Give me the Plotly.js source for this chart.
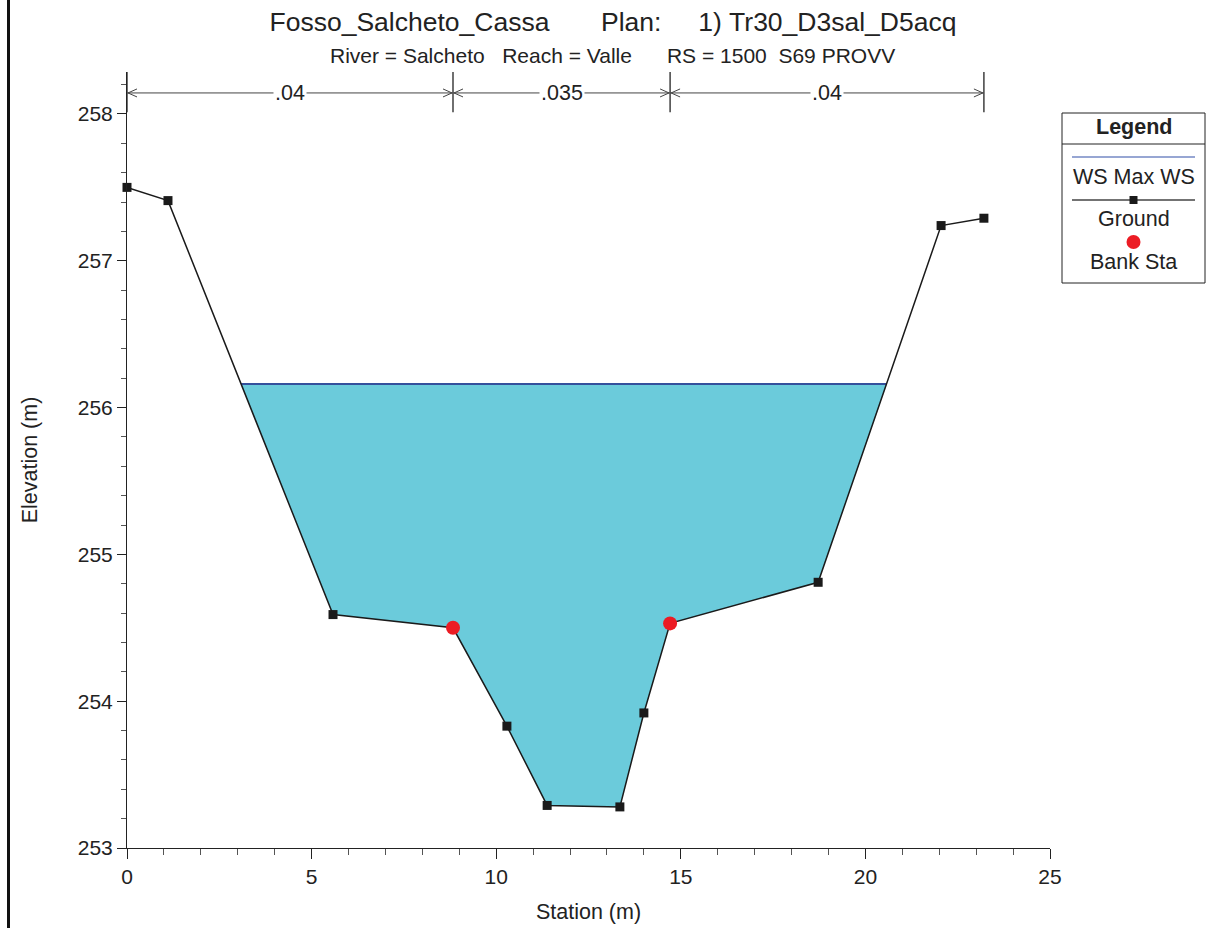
<!DOCTYPE html>
<html>
<head>
<meta charset="utf-8">
<script src="https://cdn.plot.ly/plotly-3.0.1.min.js"></script>
<style>html,body{margin:0;padding:0;background:#fff;}#chart{width:1214px;height:928px;}</style>
</head>
<body>
<div id="chart"></div>
<script>
// Ground profile (station m, elevation m)
const groundStation = [0, 1.11, 5.58, 8.83, 10.29, 11.38, 13.35, 14.00, 14.71, 18.72, 22.05, 23.21];
const groundElev    = [257.50, 257.41, 254.59, 254.50, 253.83, 253.29, 253.28, 253.92, 254.53, 254.81, 257.24, 257.29];
// Bank stations
const bankStation = [8.83, 14.71];
const bankElev    = [254.50, 254.53];
// Max water surface
const wsElev = 256.16;
const wsStations = [3.09, 20.58];
// Manning's n regions
const nBreaks = [0, 8.83, 14.71, 23.21];
const nValues = [".04", ".035", ".04"];
// Axis ticks
const xTicks = [0, 5, 10, 15, 20, 25];
const yTicks = [253, 254, 255, 256, 257, 258];

const FONT = "Liberation Sans, Arial, Helvetica, sans-serif";
const FS = 21.5;
const nbsp = s => s.replace(/ /g, "\u00a0");

// water polygon: WS line endpoints plus ground points below WS
const polyX = [wsStations[0]], polyY = [wsElev];
for (let i = 0; i < groundStation.length; i++) {
  if (groundStation[i] > wsStations[0] && groundStation[i] < wsStations[1]) {
    polyX.push(groundStation[i]); polyY.push(groundElev[i]);
  }
}
polyX.push(wsStations[1]); polyY.push(wsElev);
polyX.push(wsStations[0]); polyY.push(wsElev);

const traces = [
  {x: polyX, y: polyY, type: 'scatter', mode: 'lines', fill: 'toself',
   fillcolor: '#6bcbdb', line: {width: 0}, hoverinfo: 'skip', showlegend: false},
  {x: wsStations, y: [wsElev, wsElev], type: 'scatter', mode: 'lines',
   line: {color: '#34509c', width: 2}, name: 'WS Max WS', showlegend: false},
  {x: groundStation, y: groundElev, type: 'scatter', mode: 'lines+markers',
   line: {color: '#1a1a1a', width: 1.5},
   marker: {symbol: 'square', size: 9, color: '#1a1a1a'}, name: 'Ground', showlegend: false, cliponaxis: false},
  {x: bankStation, y: bankElev, type: 'scatter', mode: 'markers',
   marker: {symbol: 'circle', size: 14, color: '#ec1c24'}, name: 'Bank Sta', showlegend: false, cliponaxis: false}
];

const shapes = [];
const annotations = [];
const yArrow = 0.973, yDivTop = 1.0, yDivBot = 0.948;
const grey = '#444';
nBreaks.forEach(b => {
  shapes.push({type: 'line', xref: 'x', yref: 'paper', x0: b, x1: b, y0: yDivBot, y1: yDivTop,
    line: {color: '#222', width: 1.3}});
});
for (let i = 0; i < nValues.length; i++) {
  const a = nBreaks[i], b = nBreaks[i + 1];
  shapes.push({type: 'line', xref: 'x', yref: 'paper', x0: a, x1: b, y0: yArrow, y1: yArrow,
    line: {color: grey, width: 1}});
  shapes.push({type: 'path', xref: 'x', yref: 'paper', xsizemode: 'pixel', ysizemode: 'pixel',
    xanchor: a, yanchor: yArrow, path: 'M 10 4 L 1 0 L 10 -4', line: {color: grey, width: 1}});
  shapes.push({type: 'path', xref: 'x', yref: 'paper', xsizemode: 'pixel', ysizemode: 'pixel',
    xanchor: b, yanchor: yArrow, path: 'M -10 4 L -1 0 L -10 -4', line: {color: grey, width: 1}});
  annotations.push({xref: 'x', yref: 'paper', x: (a + b) / 2, y: yArrow, text: nValues[i],
    showarrow: false, bgcolor: '#fff', font: {family: FONT, size: FS, color: '#222'},
    xanchor: 'center', yanchor: 'middle', borderpad: 1});
}

// subtitle
annotations.push({xref: 'paper', yref: 'paper', x: (612.5 - 127) / 923, y: (848 - 55) / 776, xanchor: 'center', yanchor: 'middle',
  showarrow: false, text: nbsp("River = Salcheto   Reach = Valle      RS = 1500  S69 PROVV"),
  font: {family: FONT, size: 21, color: '#222'}});

// custom legend box
const px2x = px => (px - 127) / 923;
const py2y = py => (848 - py) / 776;
shapes.push({type: 'rect', xref: 'paper', yref: 'paper', x0: px2x(1062), x1: px2x(1205), y0: py2y(283), y1: py2y(113),
  line: {color: '#222', width: 1}, fillcolor: 'rgba(0,0,0,0)'});
shapes.push({type: 'line', xref: 'paper', yref: 'paper', x0: px2x(1062), x1: px2x(1205), y0: py2y(144), y1: py2y(144),
  line: {color: '#222', width: 1}});
annotations.push({xref: 'paper', yref: 'paper', x: px2x(1133.5), y: py2y(127), text: '<b>Legend</b>', showarrow: false,
  font: {family: FONT, size: FS, color: '#222'}, xanchor: 'center', yanchor: 'middle'});
shapes.push({type: 'line', xref: 'paper', yref: 'paper', x0: px2x(1072), x1: px2x(1195), y0: py2y(157), y1: py2y(157),
  line: {color: '#7489c4', width: 1.5}});
annotations.push({xref: 'paper', yref: 'paper', x: px2x(1133.5), y: py2y(177), text: 'WS Max WS', showarrow: false,
  font: {family: FONT, size: FS, color: '#222'}, xanchor: 'center', yanchor: 'middle'});
shapes.push({type: 'line', xref: 'paper', yref: 'paper', x0: px2x(1072), x1: px2x(1195), y0: py2y(200), y1: py2y(200),
  line: {color: '#444', width: 1.5}});
shapes.push({type: 'rect', xref: 'paper', yref: 'paper', xsizemode: 'pixel', ysizemode: 'pixel',
  xanchor: px2x(1133.5), yanchor: py2y(200), x0: -4, x1: 4, y0: -4, y1: 4,
  line: {width: 0}, fillcolor: '#1a1a1a'});
annotations.push({xref: 'paper', yref: 'paper', x: px2x(1133.5), y: py2y(219), text: 'Ground', showarrow: false,
  font: {family: FONT, size: FS, color: '#222'}, xanchor: 'center', yanchor: 'middle'});
shapes.push({type: 'circle', xref: 'paper', yref: 'paper', xsizemode: 'pixel', ysizemode: 'pixel',
  xanchor: px2x(1133.5), yanchor: py2y(242), x0: -7, x1: 7, y0: -7, y1: 7,
  line: {width: 0}, fillcolor: '#ec1c24'});
annotations.push({xref: 'paper', yref: 'paper', x: px2x(1133.5), y: py2y(262), text: 'Bank Sta', showarrow: false,
  font: {family: FONT, size: FS, color: '#222'}, xanchor: 'center', yanchor: 'middle'});

// left frame line
shapes.push({type: 'line', xref: 'paper', yref: 'paper', x0: px2x(8.5), x1: px2x(8.5), y0: -0.2, y1: 1.2,
  line: {color: '#111', width: 3}});

const layout = {
  width: 1214, height: 928,
  margin: {l: 127, r: 164, t: 72, b: 80},
  paper_bgcolor: '#fff', plot_bgcolor: '#fff',
  font: {family: FONT, size: FS, color: '#222'},
  title: {text: nbsp("Fosso_Salcheto_Cassa       Plan:     1) Tr30_D3sal_D5acq"),
    x: 613 / 1214, xref: 'container', xanchor: 'center', y: 1 - 22 / 928, yref: 'container', yanchor: 'middle',
    font: {family: FONT, size: 26.5, color: '#222'}},
  xaxis: {range: [0, 25], tickvals: xTicks, ticks: 'outside', ticklen: 10, tickcolor: '#222', tickwidth: 1,
    showline: true, linecolor: '#222', linewidth: 1, showgrid: false, zeroline: false,
    minor: {dtick: 1, ticks: 'outside', ticklen: 6, tickcolor: '#555', showgrid: false},
    tickfont: {family: FONT, size: 21, color: '#222'},
    title: {text: 'Station (m)', font: {family: FONT, size: FS, color: '#222'}, standoff: 16}},
  yaxis: {range: [253, 258.286], tickvals: yTicks, ticks: 'outside', ticklen: 9, tickcolor: '#222', tickwidth: 1,
    showline: true, linecolor: '#222', linewidth: 1, showgrid: false, zeroline: false,
    minor: {dtick: 0.2, ticks: 'outside', ticklen: 5, tickcolor: '#555', showgrid: false},
    tickfont: {family: FONT, size: 21, color: '#222'},
    title: {text: 'Elevation (m)', font: {family: FONT, size: FS, color: '#222'}, standoff: 34}},
  shapes: shapes,
  annotations: annotations,
  showlegend: false
};

Plotly.newPlot('chart', traces, layout, {displayModeBar: false, staticPlot: true});
</script>
</body>
</html>
